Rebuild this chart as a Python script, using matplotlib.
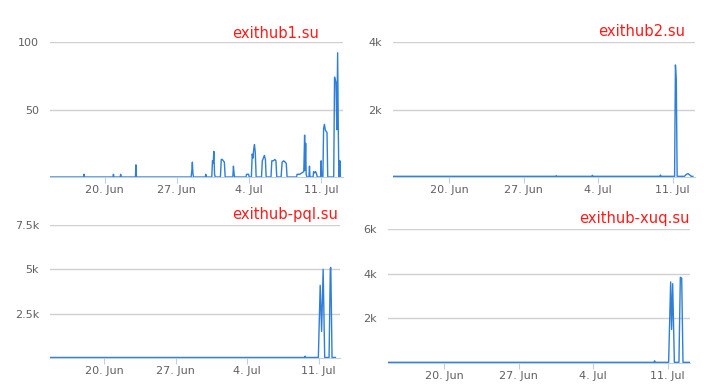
import matplotlib
matplotlib.use("Agg")
import matplotlib.pyplot as plt
import matplotlib.dates as mdates
from matplotlib.ticker import FuncFormatter
import pandas as pd

# time given as "day counted from 31 May" (20 -> 20 Jun, 34 -> 4 Jul)
base = pd.Timestamp("2015-05-31")

# exithub1.su
t1 = [14.7, 17.95, 18.0, 18.05,
      20.8, 20.85, 20.9,
      21.5, 21.55, 21.6,
      22.98, 23.03, 23.08,
      28.38, 28.45, 28.5, 28.55, 28.6,
      29.75, 29.8, 29.85,
      30.38, 30.45, 30.52, 30.58, 30.65, 30.72,
      31.22, 31.3, 31.4, 31.5, 31.6, 31.68,
      32.42, 32.48, 32.55, 32.6,
      33.7, 33.75, 33.95, 34.0,
      34.22, 34.3, 34.38, 34.45, 34.52, 34.6, 34.68,
      35.2, 35.28, 35.38, 35.48, 35.58, 35.65,
      36.12, 36.2, 36.35, 36.5, 36.6, 36.68,
      37.1, 37.2, 37.35, 37.5, 37.6, 37.68,
      38.6, 38.65, 38.9, 39.1, 39.3,
      39.38, 39.42, 39.48, 39.53, 39.6,
      39.8, 39.85, 39.9,
      40.2, 40.25, 40.35, 40.45, 40.55, 40.6,
      40.93, 40.98, 41.03,
      41.15, 41.22, 41.3, 41.38, 41.45, 41.55, 41.62,
      42.2, 42.28, 42.35, 42.42, 42.5, 42.58, 42.65, 42.7,
      42.75, 42.8, 42.85]
v1 = [0, 0, 2, 0,
      0, 2, 0,
      0, 2, 0,
      0, 9, 0,
      0, 5, 11, 3, 0,
      0, 2, 0,
      0, 12, 10, 19, 2, 0,
      0, 13, 13, 12, 11, 0,
      0, 8, 2, 0,
      0, 2, 2, 0,
      0, 17, 14, 21, 24, 18, 0,
      0, 12, 14, 16, 13, 0,
      0, 12, 12, 13, 12, 0,
      0, 11, 12, 11, 10, 0,
      0, 2, 2, 3, 4,
      31, 5, 25, 2, 0,
      0, 8, 0,
      0, 4, 3, 4, 2, 0,
      0, 12, 0,
      0, 36, 39, 35, 34, 33, 0,
      0, 74, 72, 70, 35, 92, 30, 0,
      0, 12, 0]

# exithub2.su
t2 = [14.7, 30.0, 30.05, 30.1, 33.4, 33.45, 33.5, 39.8, 39.85, 39.9,
      41.18, 41.26, 41.34, 41.42, 42.1, 42.3, 42.45, 42.6, 42.75, 42.9]
v2 = [20, 20, 40, 20, 20, 50, 20, 20, 60, 20,
      20, 3320, 2880, 20, 20, 80, 100, 60, 20, 20]

# exithub-pql.su
t3 = [14.7, 39.63, 39.68, 39.73, 40.98, 41.16, 41.3, 41.45, 41.6,
      42.03, 42.15, 42.2, 42.32, 42.65]
v3 = [30, 30, 100, 30, 30, 4100, 1500, 5000, 30,
      30, 5050, 5100, 30, 30]

# exithub-xuq.su
t4 = [14.7, 39.72, 39.77, 39.82, 41.09, 41.28, 41.37, 41.47, 41.63,
      42.06, 42.19, 42.32, 42.44, 43.05]
v4 = [30, 30, 100, 30, 30, 3630, 1500, 3550, 30,
      30, 3840, 3800, 30, 30]

titles = ["exithub1.su", "exithub2.su", "exithub-pql.su", "exithub-xuq.su"]
yticks = [[50, 100], [2000, 4000], [2500, 5000, 7500], [2000, 4000, 6000]]
xtick_days = [20, 27, 34, 41]
xtick_labels = ["20. Jun", "27. Jun", "4. Jul", "11. Jul"]

W, H = 720, 389
fig = plt.figure(figsize=(7.2, 3.89), dpi=100)

# pixel boxes: left, top(gridline), right, baseline
boxes = [(50, 42, 343, 177), (393, 42, 695, 177),
         (50, 225, 340, 358), (388, 229, 690, 363)]
title_pos = [(319, 34), (685, 32), (338, 214), (690, 218)]

series = [(t1, v1), (t2, v2), (t3, v3), (t4, v4)]

for i, (t, v) in enumerate(series):
    l, tp, r, b = boxes[i]
    ax = fig.add_axes([l / W, (H - b) / H, (r - l) / W, (b - tp) / H])
    times = base + pd.to_timedelta(t, unit="D")
    ax.plot(times, v, color="#2f7ed8", lw=1.0, solid_joinstyle="round")
    ax.set_xlim(base + pd.Timedelta(days=14.7), base + pd.Timedelta(days=43.1))
    ax.set_ylim(0, yticks[i][-1])
    ax.set_yticks(yticks[i])
    if i == 0:
        ax.yaxis.set_major_formatter(FuncFormatter(lambda x, p: f"{x:g}"))
    else:
        ax.yaxis.set_major_formatter(FuncFormatter(lambda x, p: f"{x / 1000:g}k"))
    ax.set_xticks([base + pd.Timedelta(days=d) for d in xtick_days])
    ax.set_xticklabels(xtick_labels)
    ax.grid(axis="y", color="#d0d0d0", lw=1)
    ax.set_axisbelow(True)
    for s in ["top", "left", "right"]:
        ax.spines[s].set_visible(False)
    ax.spines["bottom"].set_color("#c0d0e0")
    ax.tick_params(axis="y", length=0, labelsize=8, labelcolor="#606060", pad=8)
    ax.tick_params(axis="x", length=4, color="#c0d0e0", labelsize=8,
                   labelcolor="#606060", pad=2)
    ax.set_facecolor("none")
    tx, ty = title_pos[i]
    fig.text(tx / W, (H - ty) / H, titles[i], color="#ff1a1a", fontsize=10.6,
             ha="right", va="center")

fig.savefig("out.png", dpi=100)
